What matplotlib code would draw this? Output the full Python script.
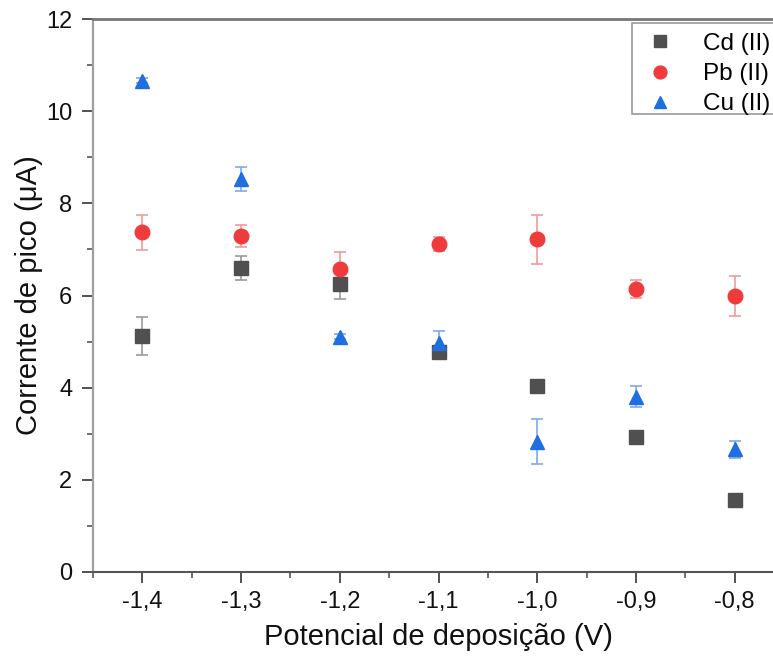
import matplotlib
matplotlib.use("Agg")
import matplotlib.pyplot as plt
from matplotlib.lines import Line2D
from matplotlib.patches import Rectangle
from matplotlib.ticker import MultipleLocator, FuncFormatter

plt.rcParams['font.family'] = ['Liberation Sans', 'DejaVu Sans']

# Deposition potential (V)
potential = [-1.4, -1.3, -1.2, -1.1, -1.0, -0.9, -0.8]

# Peak current (uA) and standard deviations
cd_current = [5.12, 6.59, 6.24, 4.77, 4.04, 2.92, 1.56]
cd_err = [0.42, 0.26, 0.32, 0.08, 0.08, 0.12, 0.05]

pb_current = [7.37, 7.30, 6.57, 7.11, 7.22, 6.14, 5.99]
pb_err = [0.38, 0.24, 0.38, 0.15, 0.53, 0.20, 0.43]

cu_current = [10.66, 8.52, 5.11, 4.96, 2.83, 3.80, 2.66]
cu_err = [0.05, 0.26, 0.05, 0.26, 0.48, 0.23, 0.18]

series_labels = ["Cd (II)", "Pb (II)", "Cu (II)"]
x_ticks = [-1.4, -1.3, -1.2, -1.1, -1.0, -0.9, -0.8]

fig = plt.figure(figsize=(7.73, 6.60), dpi=100)
ax = fig.add_axes([93 / 773, 88 / 660, 691 / 773, 553 / 660])

styles = [
    (cd_current, cd_err, 's', '#505050', '#9a9a9a', 9.5),
    (pb_current, pb_err, 'o', '#ef3b3b', '#f29a9a', 10.5),
    (cu_current, cu_err, '^', '#1f6fe0', '#7fa9ee', 10.5),
]

handles = []
for (vals, errs, mk, col, ecol, ms), lab in zip(styles, series_labels):
    ax.errorbar(potential, vals, yerr=errs, fmt=mk, color=col, ms=ms,
                mec=col, ecolor=ecol, elinewidth=1.2, capsize=4.5,
                capthick=1.2, clip_on=False)
    handles.append(Line2D([], [], ls='none', marker=mk, color=col, mec=col,
                          ms=ms * 0.88, label=lab))

ax.set_xlim(-1.45, -0.75)
ax.set_ylim(0, 12)
ax.set_xticks(x_ticks)
ax.xaxis.set_minor_locator(MultipleLocator(0.05))
ax.yaxis.set_major_locator(MultipleLocator(2))
ax.yaxis.set_minor_locator(MultipleLocator(1))
ax.xaxis.set_major_formatter(FuncFormatter(lambda v, p: f"{v:.1f}".replace('.', ',')))
ax.yaxis.set_major_formatter(FuncFormatter(lambda v, p: f"{v:.0f}"))

ax.tick_params(axis='both', which='major', direction='out', length=8, width=1.3,
               colors='#444444', labelsize=17, labelcolor='#111111')
ax.tick_params(axis='x', which='major', pad=6)
ax.tick_params(axis='y', which='major', pad=7)
ax.tick_params(axis='both', which='minor', direction='out', length=4.5, width=1.2,
               colors='#555555')

ax.spines['left'].set_color('#a0a0a0')
ax.spines['left'].set_linewidth(1.6)
ax.spines['bottom'].set_color('#555555')
ax.spines['bottom'].set_linewidth(1.5)
ax.spines['top'].set_color('#777777')
ax.spines['top'].set_linewidth(2.0)
ax.spines['right'].set_color('#777777')

ax.set_xlabel("Potencial de deposição (V)", fontsize=21, color='#111111', labelpad=7)
ax.set_ylabel("Corrente de pico (μA)", fontsize=21, color='#111111', labelpad=2)

# Legend box: frame reaches past the right edge of the figure
ax.add_patch(Rectangle((632 / 773, 1 - 114 / 660), 160 / 773, 91 / 660,
                       transform=fig.transFigure, facecolor='white',
                       edgecolor='#999999', linewidth=1.2, zorder=8,
                       clip_on=False))
leg = ax.legend(handles=handles, loc='upper left',
                bbox_to_anchor=(641 / 773, 1 - 28 / 660),
                bbox_transform=fig.transFigure, fontsize=17.5, frameon=False,
                handletextpad=1.15, handlelength=1.2, borderpad=0.2,
                labelspacing=0.34, borderaxespad=0)
leg.set_zorder(10)

fig.savefig("out.png", dpi=100)
